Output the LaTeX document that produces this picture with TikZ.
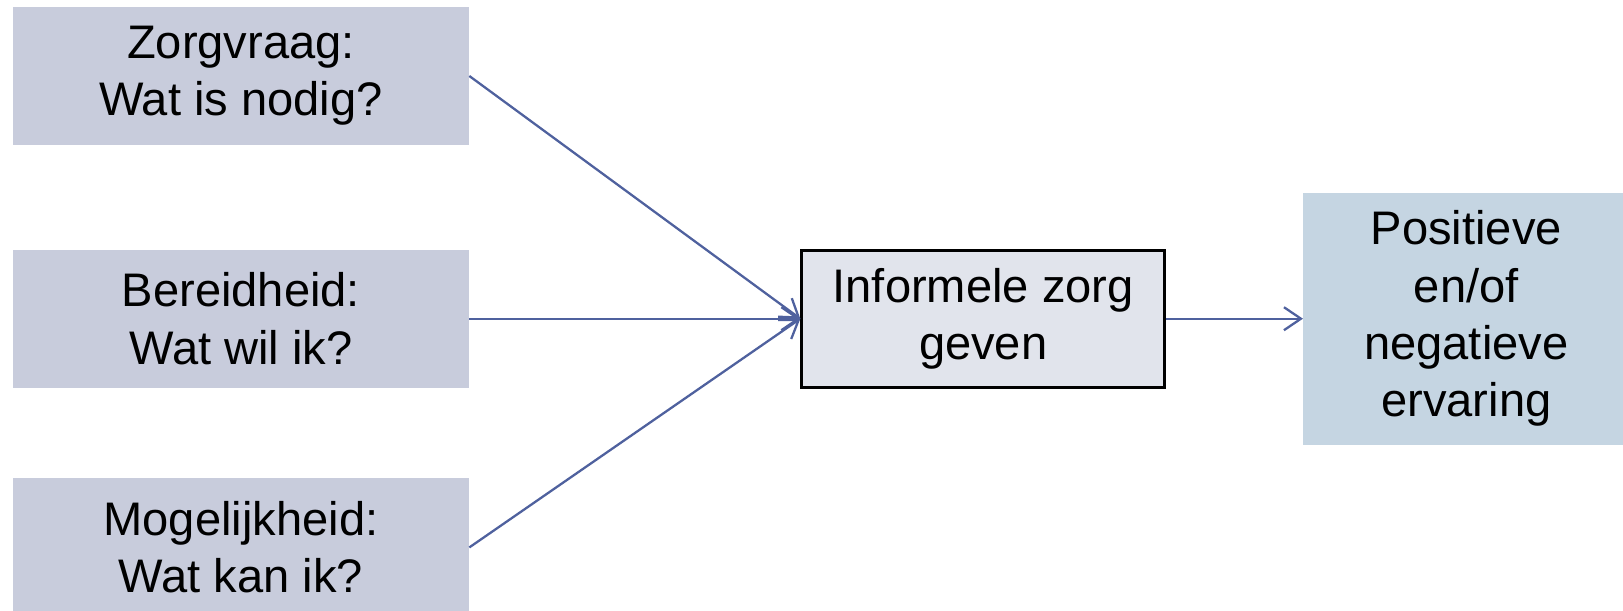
\documentclass[tikz,border=0pt]{standalone}
\usepackage{fontspec}
\setmainfont{Liberation Sans}
\usetikzlibrary{positioning,arrows.meta}
\definecolor{vraagkleur}{RGB}{200,204,220}
\definecolor{zorgkleur}{RGB}{225,228,236}
\definecolor{uitkomstkleur}{RGB}{197,213,226}
\definecolor{pijlkleur}{RGB}{79,97,158}

\begin{document}
\begin{tikzpicture}[
            factornode/.style={rectangle, fill=vraagkleur, minimum width=9.12cm, minimum height=2.76cm, align=center, inner sep=0pt},
            zorgnode/.style={rectangle, draw=black, line width=1.5pt, fill=zorgkleur, minimum width=7.26cm, minimum height=2.74cm, align=center, inner sep=0pt},
            uitkomstnode/.style={rectangle, fill=uitkomstkleur, minimum width=6.52cm, minimum height=5.04cm, align=center, inner sep=0pt},
            pijl/.style={draw=pijlkleur, line width=1.3pt, -{Straight Barb[length=3.4mm, width=4.6mm, line width=1.3pt]}},
            every node/.style={font=\fontsize{26.8}{32.6}\selectfont},
        ]
        \useasboundingbox (0,0) rectangle (32.46,-12.2);
        \clip (0,0) rectangle (32.46,-12.2);

        \node[factornode] (vraag) at (4.82,-1.52) {Zorgvraag:\\Wat is nodig?};
        \node[factornode] (bereid) [below=2.08cm of vraag] {Bereidheid:\\Wat wil ik?};
        \node[factornode] (mogelijk) [below=1.8cm of bereid] {Mogelijkheid:\\Wat kan ik?};
        \node[zorgnode] (zorg) [right=6.62cm of bereid] {Informele zorg\\geven};
        \node[uitkomstnode] (ervaring) [right=2.74cm of zorg] {Positieve\\en/of\\negatieve\\ervaring};

        \draw[pijl] (vraag.east) -- (zorg.west);
        \draw[pijl] (bereid.east) -- (zorg.west);
        \draw[pijl] (mogelijk.east) -- (zorg.west);
        \draw[pijl] (zorg.east) -- (ervaring.west);

    \end{tikzpicture}
\end{document}
